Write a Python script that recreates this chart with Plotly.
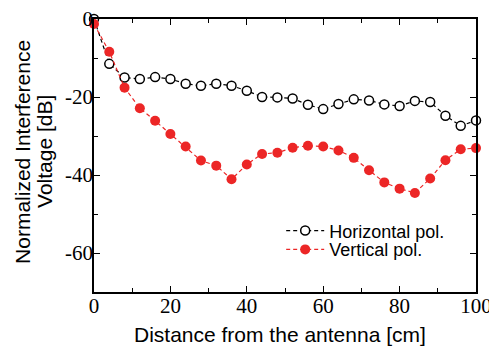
import plotly.graph_objects as go

distance = [0, 4, 8, 12, 16, 20, 24, 28, 32, 36, 40, 44, 48, 52, 56, 60, 64, 68, 72, 76, 80, 84, 88, 92, 96, 100]
horizontal = [0.0, -11.5, -15.0, -15.4, -14.9, -15.4, -16.6, -17.1, -16.6, -17.1, -18.4, -20.0, -20.1,
              -20.4, -22.0, -23.1, -21.8, -20.6, -20.9, -21.9, -22.3, -21.0, -21.3, -24.8, -27.4, -26.0]
vertical = [-1.3, -8.4, -17.6, -22.9, -26.1, -29.5, -32.7, -36.3, -37.6, -41.1, -37.3, -34.6, -34.3,
            -33.0, -32.5, -32.7, -33.7, -35.6, -38.8, -41.9, -43.5, -44.6, -40.9, -36.2, -33.4, -33.1]
x_tickvals = [0, 20, 40, 60, 80, 100]
x_ticktext = ["0", "20", "40", "60", "80", "100"]
y_tickvals = [0, -20, -40, -60]
y_ticktext = ["0", "-20", "-40", "-60"]
y_title_lines = ["Normalized Interference", "Voltage [dB]"]
x_title = "Distance from the antenna [cm]"

red = "rgb(236,38,38)"
SERIF = "Liberation Serif"
SANS = "Liberation Sans"

fig = go.Figure()
fig.add_trace(go.Scatter(
    x=distance, y=horizontal, name="Horizontal pol.", mode="lines+markers",
    line=dict(color="black", width=1.2, dash="4px,3px"),
    marker=dict(symbol="circle", size=9, color="white", line=dict(color="black", width=1.5)),
    cliponaxis=False, legend="legend",
))
fig.add_trace(go.Scatter(
    x=distance, y=vertical, name="Vertical pol.", mode="lines+markers",
    line=dict(color=red, width=1.2, dash="4px,3px"),
    marker=dict(symbol="circle", size=10, color=red, line=dict(width=0)),
    cliponaxis=False, legend="legend2",
))

axis_common = dict(
    showgrid=False, zeroline=False, showline=True, linecolor="black", linewidth=1.5,
    mirror="allticks", ticks="inside", ticklen=6, tickwidth=1, tickcolor="black",
    tickfont=dict(family=SERIF, size=21, color="black"),
    minor=dict(ticks="inside", ticklen=4, tickwidth=1, tickcolor="black"),
    automargin=False, tickmode="array", ticklabeloverflow="allow",
)

fig.update_xaxes(
    range=[0, 100], tickvals=x_tickvals, ticktext=x_ticktext, minor_dtick=10, minor_tick0=0,
    ticklabelstandoff=-6,
    **axis_common,
)
fig.update_yaxes(
    range=[-70, 0], tickvals=y_tickvals, ticktext=y_ticktext, minor_dtick=10, minor_tick0=0,
    ticklabelstandoff=-5,
    **axis_common,
)

# x-axis title
fig.add_annotation(
    text=x_title, showarrow=False, xref="paper", yref="paper",
    x=0.487, y=-0.154, xanchor="center", yanchor="middle",
    font=dict(family=SANS, size=21, color="black"),
)
# y-axis title as two rotated lines (tight line spacing as in the reference)
for i, line in enumerate(y_title_lines):
    fig.add_annotation(
        text=line, textangle=-90, showarrow=False,
        xref="paper", yref="paper", x=0, y=0.513,
        xanchor="center", yanchor="middle",
        xshift=-71 + 22 * i,
        font=dict(family=SANS, size=21, color="black"),
    )

legend_common = dict(
    xanchor="left", yanchor="middle", bgcolor="rgba(0,0,0,0)", itemwidth=38,
    font=dict(family=SANS, size=18, color="black"),
)

fig.update_layout(
    width=489, height=339,
    margin=dict(l=86, r=21, t=11, b=55, autoexpand=False),
    paper_bgcolor="white", plot_bgcolor="white",
    showlegend=True,
    legend=dict(x=0.49, y=0.224, **legend_common),
    legend2=dict(x=0.49, y=0.155, **legend_common),
)

fig.write_html("out.html")
